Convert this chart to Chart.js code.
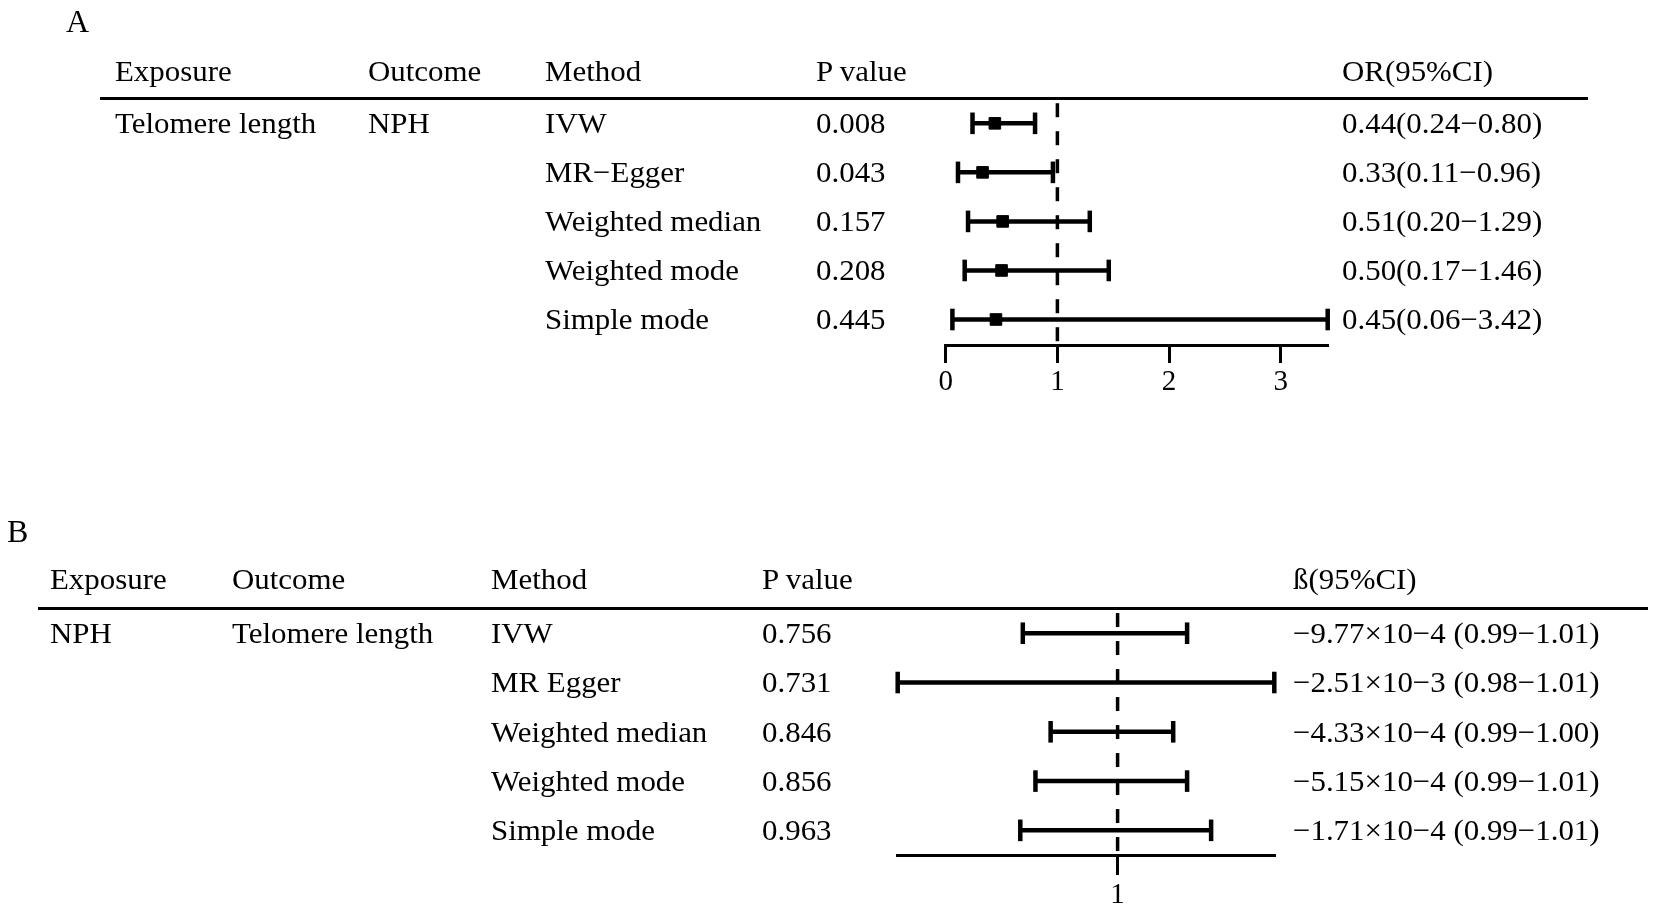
<!DOCTYPE html>
<html><head><meta charset="utf-8">
<script src="https://cdn.jsdelivr.net/npm/chart.js@4.4.1/dist/chart.umd.min.js"></script>
<style>
html,body{margin:0;padding:0;background:#fff;width:1654px;height:910px;overflow:hidden;}
#page{position:relative;width:1654px;height:910px;font-family:"Liberation Serif","Times New Roman",serif;color:#000;}
.t{position:absolute;white-space:nowrap;line-height:1;transform-origin:0 0;}
.rule{position:absolute;background:#000;}
.cw{position:absolute;left:0;width:1654px;}
</style></head><body><div id="page">
<div class="cw" style="top:0;height:400px"><canvas id="chartA"></canvas></div>
<div class="cw" style="top:500px;height:410px"><canvas id="chartB"></canvas></div>
</div>
<script>
// ---------- Data: panel A ----------
const headersA = ["Exposure", "Outcome", "Method", "P value", "OR(95%CI)"];
const exposureA = "Telomere length";
const outcomeA = "NPH";
const methodsA = ["IVW", "MR\u2212Egger", "Weighted median", "Weighted mode", "Simple mode"];
const pValuesA = ["0.008", "0.043", "0.157", "0.208", "0.445"];
const orA = [0.44, 0.33, 0.51, 0.50, 0.45];
const loA = [0.24, 0.11, 0.20, 0.17, 0.06];
const hiA = [0.80, 0.96, 1.29, 1.46, 3.42];
const orLabelsA = ["0.44(0.24\u22120.80)", "0.33(0.11\u22120.96)", "0.51(0.20\u22121.29)", "0.50(0.17\u22121.46)", "0.45(0.06\u22123.42)"];
const tickValuesA = [0, 1, 2, 3];

// ---------- Data: panel B ----------
const headersB = ["Exposure", "Outcome", "Method", "P value", "\u00DF(95%CI)"];
const exposureB = "NPH";
const outcomeB = "Telomere length";
const methodsB = ["IVW", "MR Egger", "Weighted median", "Weighted mode", "Simple mode"];
const pValuesB = ["0.756", "0.731", "0.846", "0.856", "0.963"];
const betaB = [-9.77e-4, -2.51e-3, -4.33e-4, -5.15e-4, -1.71e-4];
const loB = [0.9925, 0.9826, 0.9947, 0.9935, 0.9923];
const hiB = [1.0055, 1.0124, 1.0044, 1.0055, 1.0074];
const betaLabelsB = ["\u22129.77\u00D710\u22124 (0.99\u22121.01)", "\u22122.51\u00D710\u22123 (0.98\u22121.01)", "\u22124.33\u00D710\u22124 (0.99\u22121.00)", "\u22125.15\u00D710\u22124 (0.99\u22121.01)", "\u22121.71\u00D710\u22124 (0.99\u22121.01)"];
const tickValuesB = [1];
const refValue = 1;

// ---------- helpers ----------
const page = document.getElementById('page');
const FONT = '"Liberation Serif","Times New Roman",serif';
function addText(str, x, baseline, size, sx) {
  const d = document.createElement('div');
  d.className = 't';
  d.textContent = str;
  d.style.fontSize = size + 'px';
  d.style.left = x + 'px';
  d.style.top = (baseline - 0.8375 * size) + 'px';
  if (sx) d.style.transform = 'scaleX(' + sx + ')';
  page.appendChild(d);
}
function addRule(x, y, w, h) {
  const d = document.createElement('div');
  d.className = 'rule';
  d.style.left = x + 'px'; d.style.top = y + 'px';
  d.style.width = w + 'px'; d.style.height = h + 'px';
  page.appendChild(d);
}

function buildChart(canvasId, cfg) {
  const n = cfg.lo.length;
  const datasets = [];
  if (cfg.est) {
    datasets.push({
      type: 'scatter',
      data: cfg.est.map((v, i) => ({x: v, y: i + 1})),
      pointStyle: 'rect', pointRadius: 8.2, pointBorderWidth: 1,
      backgroundColor: '#000', borderColor: '#000', clip: false
    });
  }
  for (let i = 0; i < n; i++) {
    datasets.push({
      type: 'scatter', showLine: true,
      data: [{x: cfg.lo[i], y: i + 1}, {x: cfg.hi[i], y: i + 1}],
      borderColor: '#000', borderWidth: 4.5,
      pointStyle: 'line', pointRotation: 90, pointRadius: 10.8,
      pointBorderWidth: 4.5, pointBorderColor: '#000', pointBackgroundColor: '#000',
      clip: false
    });
  }
  datasets.push({
    type: 'scatter', showLine: true,
    data: [{x: refValue, y: cfg.yMin + 0.09}, {x: refValue, y: cfg.yMax}],
    borderColor: '#000', borderWidth: 3.5, borderDash: [14, 14],
    pointRadius: 0, clip: false
  });
  return new Chart(document.getElementById(canvasId), {
    type: 'scatter',
    data: {datasets},
    options: {
      responsive: true, maintainAspectRatio: false, animation: false, events: [],
      layout: {padding: cfg.padding},
      plugins: {legend: {display: false}, tooltip: {enabled: false}},
      scales: {
        x: {
          type: 'linear', position: 'bottom',
          min: cfg.xMin, max: cfg.xMax,
          afterBuildTicks: s => { s.ticks = cfg.ticks.map(v => ({value: v})); },
          afterFit: s => { s.height = cfg.axisHeight; },
          grid: {display: true, drawOnChartArea: false, drawTicks: true, tickLength: cfg.tickLength,
                 tickWidth: 3, tickColor: '#000', color: '#000', lineWidth: 3},
          border: {display: true, color: '#000', width: 3},
          ticks: {color: '#000', font: {family: FONT, size: 29}, padding: cfg.tickPad,
                  maxRotation: 0, autoSkip: false, includeBounds: false}
        },
        y: {type: 'linear', reverse: true, min: cfg.yMin, max: cfg.yMax, display: false}
      }
    }
  });
}

const chartA = buildChart('chartA', {
  est: orA, lo: loA, hi: hiA,
  xMin: Math.min(0, ...loA), xMax: Math.max(...hiA), ticks: tickValuesA,
  yMin: 0.5, yMax: 5.52, tickLength: 18, tickPad: 2, axisHeight: 55,
  padding: {left: 945.7, right: 326.3, top: 98.8, bottom: 0}
});
const chartB = buildChart('chartB', {
  est: null, lo: loB, hi: hiB,
  xMin: Math.min(...loB), xMax: Math.max(...hiB), ticks: tickValuesB,
  yMin: 0.5, yMax: 5.5, tickLength: 20, tickPad: 3, axisHeight: 55,
  padding: {left: 897.7, right: 379.7, top: 108.6, bottom: 0}
});

// ---------- Table text ----------
const F = 30, SX = 1.03;
// Panel A
addText("A", 66, 32, 32);
const colA = [115, 368, 545, 816, 1342];
headersA.forEach((h, i) => addText(h, colA[i], 81, F, SX));
addRule(100, 97, 1488, 3);
const rowPixA = i => chartA.scales.y.getPixelForValue(i + 1) + 10;
addText(exposureA, colA[0], rowPixA(0), F, SX);
addText(outcomeA, colA[1], rowPixA(0), F, SX);
methodsA.forEach((m, i) => {
  addText(m, colA[2], rowPixA(i), F, SX);
  addText(pValuesA[i], colA[3], rowPixA(i), F, SX);
  addText(orLabelsA[i], colA[4], rowPixA(i), F, SX);
});
// Panel B
addText("B", 7, 542, 32);
const colB = [50, 232, 491, 762, 1293];
headersB.forEach((h, i) => addText(h, colB[i], 589.5, F, SX));
addRule(38, 607, 1610, 3);
const rowPixB = i => 500 + chartB.scales.y.getPixelForValue(i + 1) + 10;
addText(exposureB, colB[0], rowPixB(0), F, SX);
addText(outcomeB, colB[1], rowPixB(0), F, SX);
methodsB.forEach((m, i) => {
  addText(m, colB[2], rowPixB(i), F, SX);
  addText(pValuesB[i], colB[3], rowPixB(i), F, SX);
  addText(betaLabelsB[i], colB[4], rowPixB(i), F, SX);
});
</script>
</body></html>
